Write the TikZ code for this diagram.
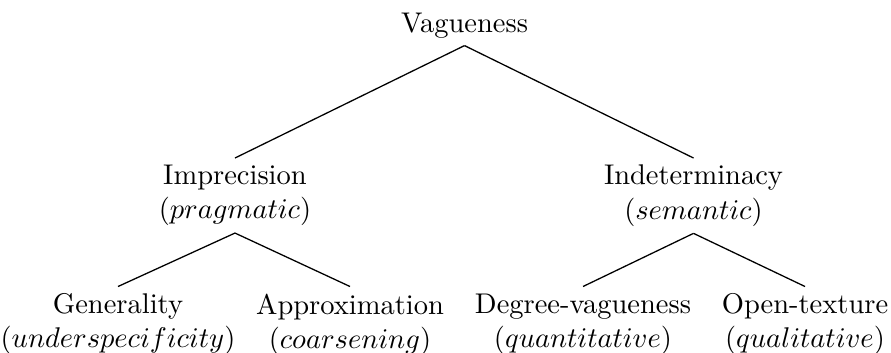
\documentclass[tikz,border=0pt]{standalone}
\begin{document}
\begin{tikzpicture}[x=0.35088pt,y=-0.35088pt,
  lab/.style={align=center,inner sep=2.3pt,anchor=north,font=\normalsize},
  edge/.style={draw=black,line width=0.45pt}]
\useasboundingbox (0,0) rectangle (891,352);
\node[lab] (v) at (464.5,6) {Vagueness};
\node[lab] (imp) at (235,158) {Imprecision\\($pragmatic$)};
\node[lab] (ind) at (693.5,158) {Indeterminacy\\($semantic$)};
\node[lab] (gen) at (118,286.5) {Generality\\($underspecificity$)};
\node[lab] (app) at (350,286.5) {Approximation\\($coarsening$)};
\node[lab] (deg) at (583,286.5) {Degree-vagueness\\($quantitative$)};
\node[lab] (ope) at (805,286.5) {Open-texture\\($qualitative$)};
\draw[edge] (v.south) -- (imp.north);
\draw[edge] (v.south) -- (ind.north);
\draw[edge] (imp.south) -- (gen.north);
\draw[edge] (imp.south) -- (app.north);
\draw[edge] (ind.south) -- (deg.north);
\draw[edge] (ind.south) -- (ope.north);
\end{tikzpicture}
\end{document}
